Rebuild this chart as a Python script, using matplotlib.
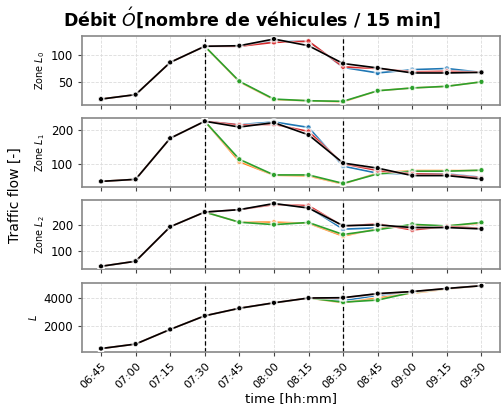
import numpy as np
import matplotlib.pyplot as plt
import matplotlib.patheffects as pe

times = ['06:45', '07:00', '07:15', '07:30', '07:45', '08:00', '08:15',
         '08:30', '08:45', '09:00', '09:15', '09:30']

# common part before 07:30 (index 0..3)
l0_pre = [20, 28, 86, 115]
l1_pre = [48, 54, 175, 225]
l2_pre = [44, 63, 192, 247]
lt_pre = [362, 683, 1730, 2705]

# zone L0, from 07:45 to 09:30
l0_blue = [115, 124, 124, 77, 67, 73, 75, 68]
l0_orange = [51, 19, 17, 15, 35, 40, 43, 51]
l0_green = [52, 20, 17, 16, 35, 40, 43, 51]
l0_red = [115, 122, 124, 78, 75, 69, 70, 68]
l0_black = [116, 128, 116, 84, 76, 67, 67, 68]

# zone L1
l1_blue = [215, 223, 207, 93, 72, 70, 70, 60]
l1_orange = [106, 66, 64, 40, 73, 80, 80, 80]
l1_green = [113, 67, 67, 42, 70, 78, 78, 81]
l1_red = [214, 216, 195, 100, 80, 70, 68, 58]
l1_black = [208, 221, 185, 102, 87, 65, 65, 55]

# zone L2
l2_blue = [256, 277, 265, 183, 188, 193, 193, 186]
l2_orange = [209, 209, 205, 157, 185, 198, 195, 205]
l2_green = [209, 200, 208, 163, 181, 201, 195, 208]
l2_red = [256, 275, 271, 194, 203, 180, 193, 186]
l2_black = [256, 279, 262, 196, 199, 189, 189, 184]

# total L
lt_blue = [3245, 3634, 3976, 3780, 4170, 4400, 4650, 4855]
lt_orange = [3245, 3634, 3976, 3634, 3976, 4317, 4620, 4855]
lt_green = [3230, 3620, 3976, 3680, 3830, 4380, 4640, 4855]
lt_red = [3245, 3634, 3976, 3990, 4280, 4430, 4655, 4855]
lt_black = [3245, 3634, 3976, 4000, 4293, 4440, 4660, 4855]

colors = ['#1f77b4', '#ff7f0e', '#2ca02c', '#d62728', 'black']
panels = [
    ('Zone $L_0$', l0_pre, [l0_blue, l0_orange, l0_green, l0_red, l0_black]),
    ('Zone $L_1$', l1_pre, [l1_blue, l1_orange, l1_green, l1_red, l1_black]),
    ('Zone $L_2$', l2_pre, [l2_blue, l2_orange, l2_green, l2_red, l2_black]),
    ('$L$', lt_pre, [lt_blue, lt_orange, lt_green, lt_red, lt_black]),
]

x = np.arange(len(times))

fig, axes = plt.subplots(4, 1, figsize=(5.03, 4.08), dpi=100, sharex=True)
fig.subplots_adjust(left=0.163, right=0.995, top=0.912, bottom=0.138, hspace=0.19)

halo = [pe.Stroke(linewidth=2.4, foreground='white', alpha=0.5), pe.Normal()]
for ax, (label, pre, series) in zip(axes, panels):
    for col, s in zip(colors, series):
        y = list(pre) + list(s)
        ax.plot(x, y, color=col, lw=1.2, marker='o', ms=3.6, mec='white',
                mew=0.5, path_effects=halo, zorder=3)
    ax.axvline(3, color='black', ls=(0, (3.5, 2)), lw=0.9, zorder=2)
    ax.axvline(7, color='black', ls=(0, (3.5, 2)), lw=0.9, zorder=2)
    ax.grid(True, ls='--', color='#dcdcdc', lw=0.6)
    ax.set_axisbelow(True)
    ax.set_ylabel(label, fontsize=7, labelpad=3)
    ax.tick_params(labelsize=8.5, color='#444444', length=3)
    for sp in ax.spines.values():
        sp.set_color('#888888')
        sp.set_linewidth(1.2)

axes[0].set_yticks([50, 100])
axes[1].set_yticks([100, 200])
axes[2].set_yticks([100, 200])
axes[3].set_yticks([2000, 4000])

axes[-1].set_xticks(x)
axes[-1].set_xticklabels(times, rotation=45, ha='right', rotation_mode='anchor', fontsize=8)
axes[-1].set_xlabel('time [hh:mm]', fontsize=9.5, labelpad=1)

fig.text(0.03, 0.522, 'Traffic flow [-]', rotation=90, va='center', ha='center', fontsize=10)
fig.suptitle(r'Débit $\acute{O}$[nombre de véhicules / 15 min]', x=0.5, y=0.985,
             fontsize=12.5, fontweight='bold')

fig.savefig('out.png', dpi=100)
